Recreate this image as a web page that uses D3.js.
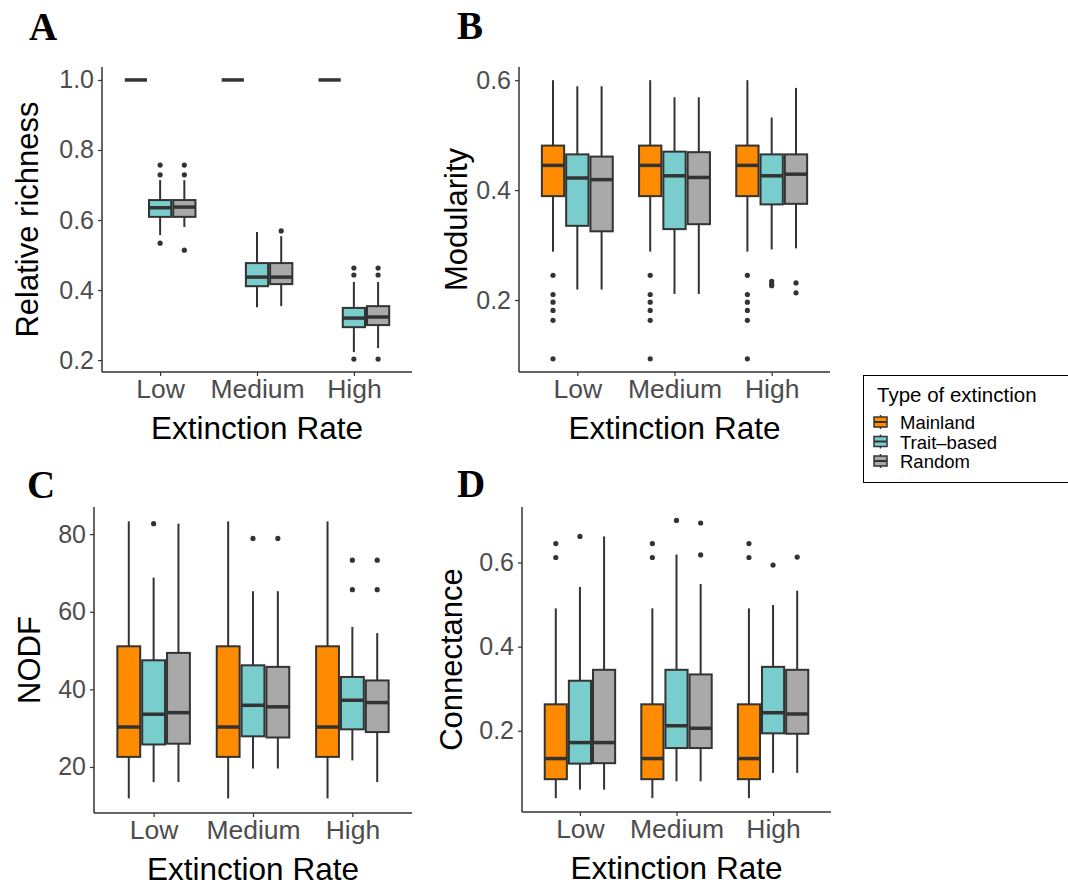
<!DOCTYPE html>
<html>
<head>
<meta charset="utf-8">
<script src="https://cdn.jsdelivr.net/npm/d3@7"></script>
<style>
  body { margin: 0; background: #fff; }
  text { font-family: "Liberation Sans", Arial, Helvetica, sans-serif; }
</style>
</head>
<body>
<div id="chart"></div>
<script>
// Categories
const rates = ["Low", "Medium", "High"];
const types = ["Mainland", "Trait-based", "Random"];
const typeColors = ["#FF8C00", "#79CDCD", "#A9A9A9"];

// Box stats per rate: [lower whisker, q1, median, q3, upper whisker]
// Panel A - Relative richness
const richMainland = [[1, 1, 1, 1, 1], [1, 1, 1, 1, 1], [1, 1, 1, 1, 1]];
const richTrait = [[0.557, 0.609, 0.635, 0.657, 0.714], [0.351, 0.411, 0.437, 0.477, 0.566], [0.223, 0.294, 0.320, 0.349, 0.423]];
const richRandom = [[0.580, 0.609, 0.637, 0.657, 0.714], [0.354, 0.417, 0.437, 0.477, 0.554], [0.234, 0.300, 0.323, 0.354, 0.423]];
const richMainlandOut = [[], [], []];
const richTraitOut = [[0.757, 0.729, 0.534], [], [0.463, 0.443, 0.203]];
const richRandomOut = [[0.757, 0.729, 0.514], [0.569], [0.463, 0.443, 0.203]];

// Panel B - Modularity
const modMainland = [[0.288, 0.389, 0.445, 0.481, 0.600], [0.288, 0.389, 0.445, 0.481, 0.600], [0.288, 0.389, 0.445, 0.481, 0.600]];
const modTrait = [[0.219, 0.335, 0.422, 0.465, 0.589], [0.211, 0.329, 0.426, 0.470, 0.569], [0.292, 0.374, 0.426, 0.465, 0.532]];
const modRandom = [[0.219, 0.325, 0.419, 0.461, 0.589], [0.211, 0.338, 0.423, 0.469, 0.569], [0.294, 0.375, 0.429, 0.465, 0.586]];
const modMainlandOut = [[0.245, 0.210, 0.196, 0.181, 0.163, 0.093], [0.245, 0.210, 0.196, 0.181, 0.163, 0.093], [0.245, 0.210, 0.196, 0.181, 0.163, 0.093]];
const modTraitOut = [[], [], [0.234, 0.229, 0.226]];
const modRandomOut = [[], [], [0.231, 0.213]];

// Panel C - NODF
const nodfMainland = [[11.9, 22.6, 30.3, 51.1, 83.3], [11.9, 22.6, 30.3, 51.1, 83.3], [11.9, 22.6, 30.3, 51.1, 83.3]];
const nodfTrait = [[16.1, 25.8, 33.6, 47.5, 68.8], [19.6, 27.9, 35.9, 46.2, 65.3], [21.7, 29.7, 37.2, 43.2, 56.1]];
const nodfRandom = [[16.1, 26.0, 34.0, 49.4, 82.7], [19.6, 27.6, 35.5, 45.8, 65.3], [16.1, 29.0, 36.6, 42.3, 54.5]];
const nodfMainlandOut = [[], [], []];
const nodfTraitOut = [[82.7], [78.9], [73.3, 65.7]];
const nodfRandomOut = [[], [78.9], [73.3, 65.7]];

// Panel D - Connectance
const connMainland = [[0.040, 0.085, 0.134, 0.263, 0.491], [0.040, 0.085, 0.134, 0.263, 0.491], [0.040, 0.085, 0.134, 0.263, 0.491]];
const connTrait = [[0.060, 0.122, 0.172, 0.319, 0.542], [0.080, 0.159, 0.212, 0.345, 0.619], [0.100, 0.194, 0.243, 0.352, 0.499]];
const connRandom = [[0.060, 0.123, 0.172, 0.345, 0.662], [0.080, 0.159, 0.206, 0.334, 0.549], [0.100, 0.193, 0.240, 0.345, 0.533]];
const connMainlandOut = [[0.645, 0.612], [0.645, 0.612], [0.645, 0.612]];
const connTraitOut = [[0.662], [0.700], [0.594]];
const connRandomOut = [[], [0.694, 0.618], [0.613]];

const width = 1068, height = 886;
const outline = "#333333";

const svg = d3.select("#chart").append("svg")
    .attr("width", width)
    .attr("height", height);

svg.append("rect").attr("width", width).attr("height", height).attr("fill", "#fff");

// Draw one panel of grouped boxplots
function panel(opts) {
    const { left, right, top, bottom, domain, ticks, fmt, yLabel, yLabelX, letter, letterX, letterY, stats, outs } = opts;

    const x = d3.scalePoint().domain(rates).range([left, right]).padding(0.6);
    const step = x.step();
    const dodge = d3.scaleBand().domain(types).range([-step * 0.375, step * 0.375]);
    const y = d3.scaleLinear().domain(domain).range([bottom, top]);

    const g = svg.append("g");

    // Boxes
    types.forEach((t, ti) => {
        rates.forEach((r, ri) => {
            const [lw, q1, med, q3, uw] = stats[ti][ri];
            const x0 = x(r) + dodge(t);
            const bw = dodge.bandwidth();
            const cx = x0 + bw / 2;
            const bg = g.append("g");
            bg.append("line")
                .attr("x1", cx).attr("x2", cx)
                .attr("y1", y(uw)).attr("y2", y(q3))
                .attr("stroke", outline).attr("stroke-width", 2);
            bg.append("line")
                .attr("x1", cx).attr("x2", cx)
                .attr("y1", y(q1)).attr("y2", y(lw))
                .attr("stroke", outline).attr("stroke-width", 2);
            bg.append("rect")
                .attr("x", x0 + 1).attr("width", bw - 2)
                .attr("y", y(q3)).attr("height", y(q1) - y(q3))
                .attr("fill", typeColors[ti])
                .attr("stroke", outline).attr("stroke-width", 2);
            bg.append("line")
                .attr("x1", x0 + 1).attr("x2", x0 + bw - 1)
                .attr("y1", y(med)).attr("y2", y(med))
                .attr("stroke", outline).attr("stroke-width", 3.5);
            bg.selectAll("circle")
                .data(outs[ti][ri])
                .join("circle")
                .attr("cx", cx)
                .attr("cy", d => y(d))
                .attr("r", 2.6)
                .attr("fill", outline);
        });
    });

    // Axes
    const yAxis = d3.axisLeft(y).tickValues(ticks).tickFormat(d3.format(fmt)).tickSize(4).tickPadding(4);
    const yg = g.append("g").attr("transform", `translate(${left},0)`).call(yAxis);
    yg.select(".domain").attr("stroke", outline).attr("stroke-width", 1.5).attr("d", `M0,${top}V${bottom}`);

    const xAxis = d3.axisBottom(x).tickSize(4).tickPadding(3);
    const xg = g.append("g").attr("transform", `translate(0,${bottom})`).call(xAxis);
    xg.select(".domain").attr("stroke", outline).attr("stroke-width", 1.5).attr("d", `M${left},0H${right}`);

    [yg, xg].forEach(a => {
        a.selectAll(".tick line").attr("stroke", outline).attr("stroke-width", 1.2);
        a.selectAll(".tick text").attr("fill", "#4D4D4D").attr("font-size", 25)
            .style("font-family", '"Liberation Sans", Arial, sans-serif');
    });
    xg.selectAll(".tick text").attr("font-size", 26.5);

    // Axis titles
    g.append("text")
        .attr("x", (left + right) / 2)
        .attr("y", bottom + 67)
        .attr("text-anchor", "middle")
        .attr("font-size", 31.5)
        .attr("fill", "#000")
        .text("Extinction Rate");

    g.append("text")
        .attr("transform", `translate(${yLabelX},${(top + bottom) / 2}) rotate(-90)`)
        .attr("text-anchor", "middle")
        .attr("font-size", 31)
        .attr("fill", "#000")
        .text(yLabel);

    // Panel letter
    svg.append("text")
        .attr("x", letterX).attr("y", letterY)
        .style("font-family", '"Liberation Serif", "Times New Roman", serif')
        .attr("font-weight", "bold")
        .attr("font-size", 39)
        .text(letter);
}

panel({
    left: 102, right: 412, top: 67, bottom: 372, domain: [0.166, 1.037],
    ticks: [0.2, 0.4, 0.6, 0.8, 1.0], fmt: ".1f",
    yLabel: "Relative richness", yLabelX: 38,
    letter: "A", letterX: 29, letterY: 40,
    stats: [richMainland, richTrait, richRandom],
    outs: [richMainlandOut, richTraitOut, richRandomOut]
});

panel({
    left: 519, right: 830, top: 67, bottom: 372, domain: [0.069, 0.624],
    ticks: [0.2, 0.4, 0.6], fmt: ".1f",
    yLabel: "Modularity", yLabelX: 467,
    letter: "B", letterX: 457, letterY: 39,
    stats: [modMainland, modTrait, modRandom],
    outs: [modMainlandOut, modTraitOut, modRandomOut]
});

panel({
    left: 94, right: 412, top: 507, bottom: 813, domain: [8.14, 87.0],
    ticks: [20, 40, 60, 80], fmt: "d",
    yLabel: "NODF", yLabelX: 40,
    letter: "C", letterX: 27, letterY: 498,
    stats: [nodfMainland, nodfTrait, nodfRandom],
    outs: [nodfMainlandOut, nodfTraitOut, nodfRandomOut]
});

panel({
    left: 522, right: 831, top: 507, bottom: 812, domain: [0.007, 0.732],
    ticks: [0.2, 0.4, 0.6], fmt: ".1f",
    yLabel: "Connectance", yLabelX: 462,
    letter: "D", letterX: 457, letterY: 497,
    stats: [connMainland, connTrait, connRandom],
    outs: [connMainlandOut, connTraitOut, connRandomOut]
});

// Legend
const legend = svg.append("g");
legend.append("rect")
    .attr("x", 863.5).attr("y", 375.5)
    .attr("width", 220).attr("height", 107)
    .attr("fill", "#fff")
    .attr("stroke", "#000").attr("stroke-width", 1);
legend.append("text")
    .attr("x", 877).attr("y", 402)
    .attr("font-size", 20.5)
    .text("Type of extinction");

const ly = d3.scalePoint().domain(types).range([422, 461]);
types.forEach((t, i) => {
    const cy = ly(t);
    const k = legend.append("g");
    k.append("line").attr("x1", 880.5).attr("x2", 880.5).attr("y1", cy - 7).attr("y2", cy + 7)
        .attr("stroke", outline).attr("stroke-width", 1.5);
    k.append("rect").attr("x", 874).attr("y", cy - 5).attr("width", 13).attr("height", 10)
        .attr("fill", typeColors[i]).attr("stroke", outline).attr("stroke-width", 1.5);
    k.append("line").attr("x1", 874).attr("x2", 887).attr("y1", cy).attr("y2", cy)
        .attr("stroke", outline).attr("stroke-width", 2);
    legend.append("text")
        .attr("x", 900).attr("y", cy + 7)
        .attr("font-size", 18.5)
        .text(t === "Trait-based" ? "Trait\u2013based" : t);
});
</script>
</body>
</html>
